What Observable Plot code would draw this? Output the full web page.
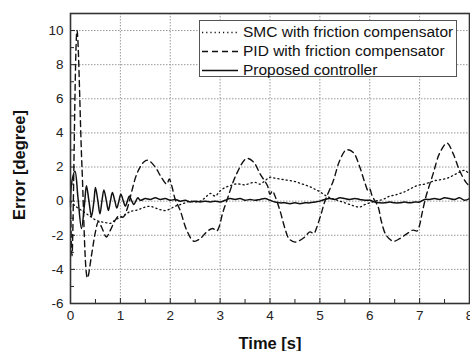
<!DOCTYPE html>
<html>
<head>
<meta charset="utf-8">
<script src="https://cdn.jsdelivr.net/npm/d3@7"></script>
<script src="https://cdn.jsdelivr.net/npm/@observablehq/plot@0.6"></script>
<style>
  html, body { margin: 0; padding: 0; background: #fff; }
  #wrap { position: relative; width: 470px; height: 351px; overflow: hidden; font-family: "Liberation Sans", Arial, sans-serif; }
  #legend { position: absolute; left: 199px; top: 20px; width: 258px; height: 57px; box-sizing: border-box;
            border: 1px solid #555; background: #fff; font-size: 15.5px; color: #111; }
  #legend .row { position: absolute; left: 2px; height: 19px; line-height: 19px; white-space: nowrap; }
  #legend svg { vertical-align: middle; }
  #legend span { position: absolute; left: 41px; top: 0; }
</style>
</head>
<body>
<div id="wrap"></div>
<script>
// ---- data ----
const xTicks = [0, 1, 2, 3, 4, 5, 6, 7, 8];
const xMinor = [0.5, 1.5, 2.5, 3.5, 4.5, 5.5, 6.5, 7.5];
const yTicks = [-6, -4, -2, 0, 2, 4, 6, 8, 10];
const yMinor = [-5, -3, -1, 1, 3, 5, 7, 9];
const seriesNames = ["SMC with friction compensator", "PID with friction compensator", "Proposed controller"];

// SMC with friction compensator (dotted)
const smcT = [0,0.1,0.2,0.3,0.4,0.5,0.6,0.7,0.8,0.9,1.0,1.1,1.2,1.3,1.4,1.5,1.6,1.7,1.8,1.9,2.0,2.1,2.2,2.3,2.4,2.5,2.6,2.7,2.8,2.9,3.0,3.1,3.2,3.3,3.4,3.5,3.6,3.7,3.8,3.9,4.0,4.1,4.2,4.3,4.4,4.5,4.6,4.7,4.8,4.9,5.0,5.1,5.2,5.3,5.4,5.5,5.6,5.7,5.8,5.9,6.0,6.1,6.2,6.3,6.4,6.5,6.6,6.7,6.8,6.9,7.0,7.1,7.2,7.3,7.4,7.5,7.6,7.7,7.8,7.9,8.0];
const smcV = [0,-0.3,-0.5,-0.7,-0.9,-1.1,-1.2,-1.25,-1.3,-1.1,-0.95,-0.8,-0.6,-0.55,-0.45,-0.35,-0.3,-0.4,-0.5,-0.55,-0.45,-0.3,-0.2,-0.1,0.0,-0.05,0.0,0.2,0.45,0.3,0.6,0.8,0.9,1.0,1.0,0.95,1.05,1.1,1.0,1.2,1.4,1.35,1.3,1.25,1.2,1.15,1.05,0.95,0.85,0.7,0.55,0.35,0.2,0.1,0.0,-0.1,-0.2,-0.3,-0.35,-0.2,-0.1,0.0,0.05,0.15,0.3,0.35,0.45,0.55,0.7,0.85,0.95,1.0,1.1,1.2,1.25,1.3,1.4,1.55,1.7,1.8,1.6];

// PID with friction compensator (dashed)
const pidT = [0,0.03,0.13,0.23,0.34,0.42,0.5,0.56,0.62,0.72,0.8,0.9,0.98,1.05,1.13,1.23,1.33,1.47,1.55,1.7,1.8,1.93,1.98,2.03,2.1,2.2,2.33,2.47,2.6,2.73,2.85,2.93,2.98,3.05,3.13,3.33,3.53,3.67,3.8,3.95,4.0,4.05,4.1,4.2,4.3,4.38,4.5,4.6,4.7,4.8,4.88,4.93,5.03,5.1,5.27,5.4,5.53,5.67,5.8,5.9,5.97,6.0,6.05,6.17,6.23,6.33,6.47,6.6,6.75,6.87,6.95,7.0,7.05,7.13,7.27,7.4,7.55,7.67,7.8,7.93,8.0];
const pidV = [0,-3.2,10,2,-4.5,-3.2,-1.8,-1.2,-1.5,-2.1,-1.7,-1.1,-0.85,-0.95,-0.5,0.6,1.6,2.3,2.4,2.0,1.5,1.0,1.3,0.9,0.1,-0.55,-1.7,-2.35,-2.2,-1.8,-1.6,-1.75,-1.5,-0.7,0,1.6,2.5,2.3,1.6,0.9,0.4,0.6,0.3,-0.55,-1.6,-2.2,-2.4,-2.3,-2.1,-1.8,-1.9,-1.6,-0.7,0,1.2,2.4,3.0,2.85,2.0,1.1,0.6,0.7,0.3,-0.35,-1.15,-2.0,-2.35,-2.2,-1.9,-1.7,-1.75,-1.4,-0.7,0.3,1.6,2.8,3.4,2.8,1.8,1.1,0.9];

// Proposed controller (solid)
const propT = [0,0.03,0.09,0.15,0.22,0.28,0.32,0.37,0.42,0.47,0.5,0.55,0.59,0.63,0.67,0.72,0.76,0.8,0.84,0.89,0.93,0.97,1.01,1.06,1.1,1.14,1.18,1.23,1.27,1.31,1.35,1.4,1.5,1.6,1.7,1.8,1.9,2.0,2.1,2.2,2.3,2.4,2.5,2.6,2.7,2.8,2.9,3.0,3.1,3.2,3.3,3.4,3.5,3.6,3.7,3.8,3.9,4.0,4.1,4.2,4.3,4.4,4.5,4.6,4.7,4.8,4.9,5.0,5.1,5.2,5.3,5.4,5.5,5.6,5.7,5.8,5.9,6.0,6.1,6.2,6.3,6.4,6.5,6.6,6.7,6.8,6.9,7.0,7.1,7.2,7.3,7.4,7.5,7.6,7.7,7.8,7.9,8.0];
const propV = [0,1.2,1.75,0.2,-1.6,-0.2,0.9,0.0,-0.9,0.0,0.8,0.0,-0.75,0.0,0.65,0.0,-0.55,0.0,0.5,0.0,-0.4,0.0,0.4,0.0,-0.3,0.0,0.3,0.0,-0.2,0.0,0.2,0.05,0.15,0.1,0.2,0.1,0.15,0.05,0.1,0.0,0.05,-0.05,0.0,-0.05,0.0,-0.05,0.0,-0.05,0.05,0.15,0.1,0.15,0.05,0.1,0.05,0.1,0.15,0.05,-0.05,-0.1,-0.1,-0.15,-0.1,-0.15,-0.1,-0.1,-0.05,0.0,0.1,0.15,0.1,0.2,0.15,0.1,0.15,0.1,0.05,0.05,-0.05,-0.1,-0.1,-0.05,-0.1,-0.1,-0.05,-0.1,-0.05,-0.05,0.1,0.1,0.15,0.1,0.2,0.15,0.1,0.2,0.05,0.15];

const toRows = (T, V) => T.map((t, i) => ({t, v: V[i]}));
const smc = toRows(smcT, smcV);
const pid = toRows(pidT, pidV);
const prop = toRows(propT, propV);

const ink = "#111";
const font = "'Liberation Sans', Arial, sans-serif";

const chart = Plot.plot({
  width: 470,
  height: 351,
  marginLeft: 70,
  marginRight: 1,
  marginTop: 13,
  marginBottom: 48,
  style: {fontFamily: font, fontSize: "13.5px", color: "#222", background: "#fff", overflow: "visible"},
  x: {domain: [0, 8]},
  y: {domain: [-6, 11]},
  marks: [
    Plot.gridX(xTicks.slice(1, -1), {stroke: "#999", strokeOpacity: 1, strokeDasharray: "1.5,1.5"}),
    Plot.gridY(yTicks.filter(d => d > -6), {stroke: "#999", strokeOpacity: 1, strokeDasharray: "1.5,1.5"}),
    Plot.axisX(xTicks, {tickSize: -5, tickPadding: 12, tickFormat: d => String(d), label: null, stroke: "#222"}),
    Plot.axisX(xMinor, {tickSize: -4, text: null, label: null, stroke: "#222"}),
    Plot.axisY(yTicks, {tickSize: -5, tickPadding: 12, tickFormat: d => String(d), label: null, stroke: "#222"}),
    Plot.axisY(yMinor, {tickSize: -4, text: null, label: null, stroke: "#222"}),
    Plot.line(smc, {x: "t", y: "v", stroke: ink, strokeWidth: 1.3, strokeDasharray: "1.2,3", curve: "catmull-rom"}),
    Plot.line(pid, {x: "t", y: "v", stroke: ink, strokeWidth: 1.4, strokeDasharray: "6,4", curve: "catmull-rom"}),
    Plot.line(prop, {x: "t", y: "v", stroke: ink, strokeWidth: 1.5, curve: "catmull-rom"}),
    Plot.frame({stroke: "#333", strokeWidth: 1.6})
  ]
});

const wrap = document.getElementById("wrap");
wrap.appendChild(chart);

// axis titles as real text inside the svg
const svg = d3.select(chart);
svg.append("text")
  .attr("x", 270).attr("y", 349)
  .attr("text-anchor", "middle")
  .attr("font-family", font).attr("font-weight", "bold").attr("font-size", "16.5px").attr("fill", "#111")
  .text("Time [s]");
svg.append("text")
  .attr("transform", "translate(25,165) rotate(-90)")
  .attr("text-anchor", "middle")
  .attr("font-family", font).attr("font-weight", "bold").attr("font-size", "16.5px").attr("fill", "#111")
  .text("Error [degree]");

// legend (HTML overlay)
const legend = document.createElement("div");
legend.id = "legend";
const dashes = ["1.2,3", "6,4", null];
seriesNames.forEach((name, i) => {
  const row = document.createElement("div");
  row.className = "row";
  row.style.top = (i * 19 + 1) + "px";
  const dash = dashes[i] ? `stroke-dasharray="${dashes[i]}"` : "";
  row.innerHTML = `<svg width="36" height="19"><line x1="0" y1="9.5" x2="36" y2="9.5" stroke="${ink}" stroke-width="1.5" ${dash}/></svg><span>${name}</span>`;
  legend.appendChild(row);
});
wrap.appendChild(legend);
</script>
</body>
</html>
